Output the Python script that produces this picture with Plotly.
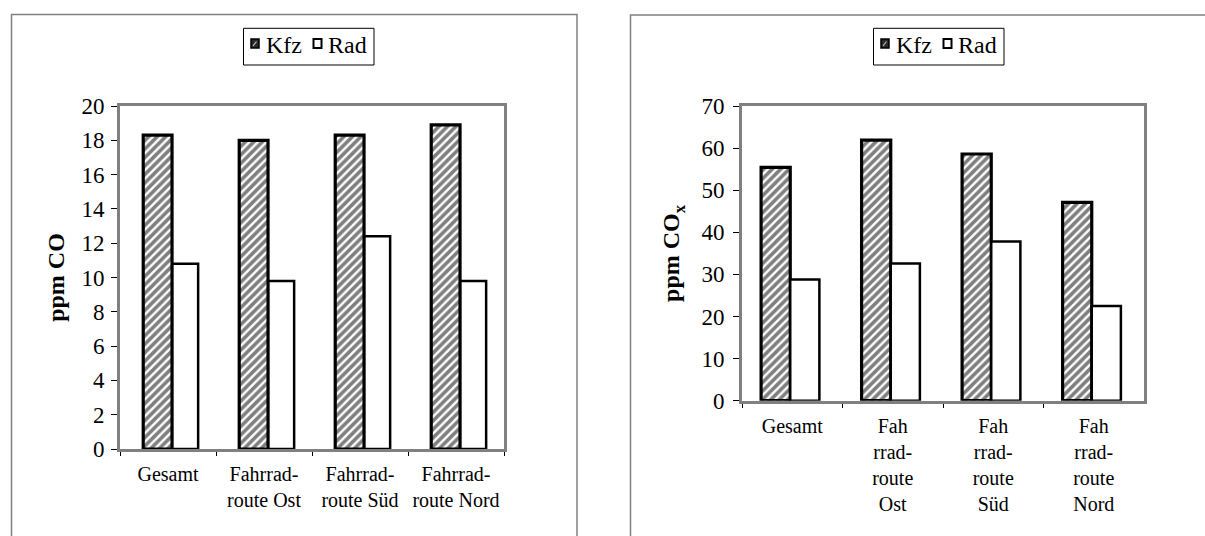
import plotly.graph_objects as go

# ---- data ----
categories = ["Gesamt", "Fahrrad-route Ost", "Fahrrad-route Süd", "Fahrrad-route Nord"]
labels_left = ["Gesamt", "Fahrrad-<br>route Ost", "Fahrrad-<br>route Süd", "Fahrrad-<br>route Nord"]
labels_right = ["Gesamt", "Fah<br>rrad-<br>route<br>Ost", "Fah<br>rrad-<br>route<br>Süd", "Fah<br>rrad-<br>route<br>Nord"]
co_kfz = [18.3, 18.0, 18.3, 18.9]
co_rad = [10.8, 9.8, 12.4, 9.8]
cox_kfz = [55.4, 61.9, 58.6, 47.1]
cox_rad = [28.8, 32.6, 37.8, 22.5]
series_names = ["Kfz", "Rad"]
y_ticks_left = [0, 2, 4, 6, 8, 10, 12, 14, 16, 18, 20]
y_ticks_right = [0, 10, 20, 30, 40, 50, 60, 70]

W, H = 1205, 536
FONT = "Liberation Serif, Times New Roman, serif"


def px(x):
    return x / W


def py(y):
    return 1 - y / H


hatch = dict(shape="/", fgcolor="black", bgcolor="white", size=6, solidity=0.6)

fig = go.Figure()

# Left chart
fig.add_trace(go.Bar(x=categories, y=co_kfz, name=series_names[0], xaxis="x", yaxis="y",
                     offset=-0.258, width=0.30, showlegend=False,
                     marker=dict(color="white", pattern=hatch, line=dict(color="black", width=3.2))))
fig.add_trace(go.Bar(x=categories, y=co_rad, name=series_names[1], xaxis="x", yaxis="y",
                     offset=0.046, width=0.268, showlegend=False,
                     marker=dict(color="white", line=dict(color="black", width=2.5))))
# Right chart
fig.add_trace(go.Bar(x=categories, y=cox_kfz, name=series_names[0], xaxis="x2", yaxis="y2",
                     offset=-0.31, width=0.29, showlegend=False,
                     marker=dict(color="white", pattern=hatch, line=dict(color="black", width=3.2))))
fig.add_trace(go.Bar(x=categories, y=cox_rad, name=series_names[1], xaxis="x2", yaxis="y2",
                     offset=-0.02, width=0.29, showlegend=False,
                     marker=dict(color="white", line=dict(color="black", width=2.5))))

axis_common = dict(showgrid=False, zeroline=False, showline=True, linecolor="#808080",
                   linewidth=3, mirror=True, tickcolor="black", tickwidth=1,
                   automargin=False)
xfont = dict(family=FONT, size=20, color="black")
yfont = dict(family=FONT, size=23, color="black")
title_font = dict(family=FONT, size=24, color="black")

dom_left_x = [px(120), px(504)]
dom_left_y = [py(449), py(106)]
dom_right_x = [px(742), px(1144)]
dom_right_y = [py(400.7), py(106)]

cross = dict(showticklabels=False, showgrid=False, zeroline=False, showline=False,
             automargin=False, tickcolor="black", tickwidth=1)

shapes = [
    dict(type="rect", xref="paper", yref="paper", x0=px(11.5), x1=px(577),
         y0=py(540), y1=py(14.5), line=dict(color="#808080", width=1.5), layer="below"),
    dict(type="rect", xref="paper", yref="paper", x0=px(630.5), x1=px(1210),
         y0=py(540), y1=py(15), line=dict(color="#808080", width=1.5), layer="below"),
]
annotations = []


def add_legend(x0):
    # legend frame
    shapes.append(dict(type="rect", xref="paper", yref="paper", x0=px(x0), x1=px(x0 + 130.5),
                       y0=py(65), y1=py(28.3), line=dict(color="black", width=1),
                       fillcolor="white", layer="above"))
    # Kfz symbol (dark hatched square)
    shapes.append(dict(type="rect", xref="paper", yref="paper", x0=px(x0 + 7.5), x1=px(x0 + 15.5),
                       y0=py(48), y1=py(39), line=dict(color="black", width=1.5),
                       fillcolor="#2a2a2a", layer="above"))
    shapes.append(dict(type="line", xref="paper", yref="paper", x0=px(x0 + 9.5), x1=px(x0 + 13),
                       y0=py(46), y1=py(41.5), line=dict(color="#bbbbbb", width=1.2),
                       layer="above"))
    # Rad symbol (white square)
    shapes.append(dict(type="rect", xref="paper", yref="paper", x0=px(x0 + 70), x1=px(x0 + 78),
                       y0=py(48), y1=py(39), line=dict(color="black", width=2),
                       fillcolor="white", layer="above"))
    for name, tx in zip(series_names, [x0 + 20.5, x0 + 82.5]):
        annotations.append(dict(text=name, xref="paper", yref="paper", x=px(tx), y=py(44.5),
                                xanchor="left", yanchor="middle", showarrow=False,
                                font=dict(family=FONT, size=24, color="black")))


add_legend(243.5)
add_legend(873.5)

fig.update_layout(
    width=W, height=H,
    margin=dict(l=0, r=0, t=0, b=0, autoexpand=False),
    paper_bgcolor="white", plot_bgcolor="white",
    barmode="group", showlegend=False,
    font=dict(family=FONT, color="black"),
    xaxis=dict(domain=dom_left_x, anchor="y", type="category",
               categoryorder="array", categoryarray=categories,
               tickmode="array", tickvals=categories, ticktext=labels_left,
               tickson="boundaries", ticks="outside", ticklen=4, tickangle=0,
               ticklabelstandoff=5, tickfont=xfont, **axis_common),
    yaxis=dict(domain=dom_left_y, anchor="x", range=[0, 20], tickvals=y_ticks_left,
               ticks="outside", ticklen=6, ticklabelstandoff=2, tickfont=yfont,
               title=dict(text="<b>ppm CO</b>", font=title_font, standoff=11),
               **axis_common),
    xaxis2=dict(domain=dom_right_x, anchor="y2", type="category",
                categoryorder="array", categoryarray=categories,
                tickmode="array", tickvals=categories, ticktext=labels_right,
                tickson="boundaries", ticks="outside", ticklen=4, tickangle=0,
                ticklabelstandoff=5, tickfont=xfont, **axis_common),
    yaxis2=dict(domain=dom_right_y, anchor="x2", range=[0, 70], tickvals=y_ticks_right,
                ticks="outside", ticklen=6, ticklabelstandoff=4, tickfont=yfont,
                title=dict(text="<b>ppm CO<sub>x</sub></b>", font=title_font, standoff=15),
                **axis_common),
    # overlay axes drawing the inner half of the crossing ticks
    xaxis3=dict(domain=dom_left_x, anchor="y", overlaying="x", range=[-0.5, 3.5],
                tickvals=[-0.5, 0.5, 1.5, 2.5, 3.5], ticks="inside", ticklen=6, **cross),
    xaxis4=dict(domain=dom_right_x, anchor="y2", overlaying="x2", range=[-0.5, 3.5],
                tickvals=[-0.5, 0.5, 1.5, 2.5, 3.5], ticks="inside", ticklen=6, **cross),
    yaxis3=dict(domain=dom_left_y, anchor="x", overlaying="y", range=[0, 20],
                tickvals=y_ticks_left, ticks="inside", ticklen=7, **cross),
    yaxis4=dict(domain=dom_right_y, anchor="x2", overlaying="y2", range=[0, 70],
                tickvals=y_ticks_right, ticks="inside", ticklen=7, **cross),
    shapes=shapes,
    annotations=annotations,
)

fig.write_html("out.html", config={"displayModeBar": False},
               post_script="document.body.style.margin='0';")
